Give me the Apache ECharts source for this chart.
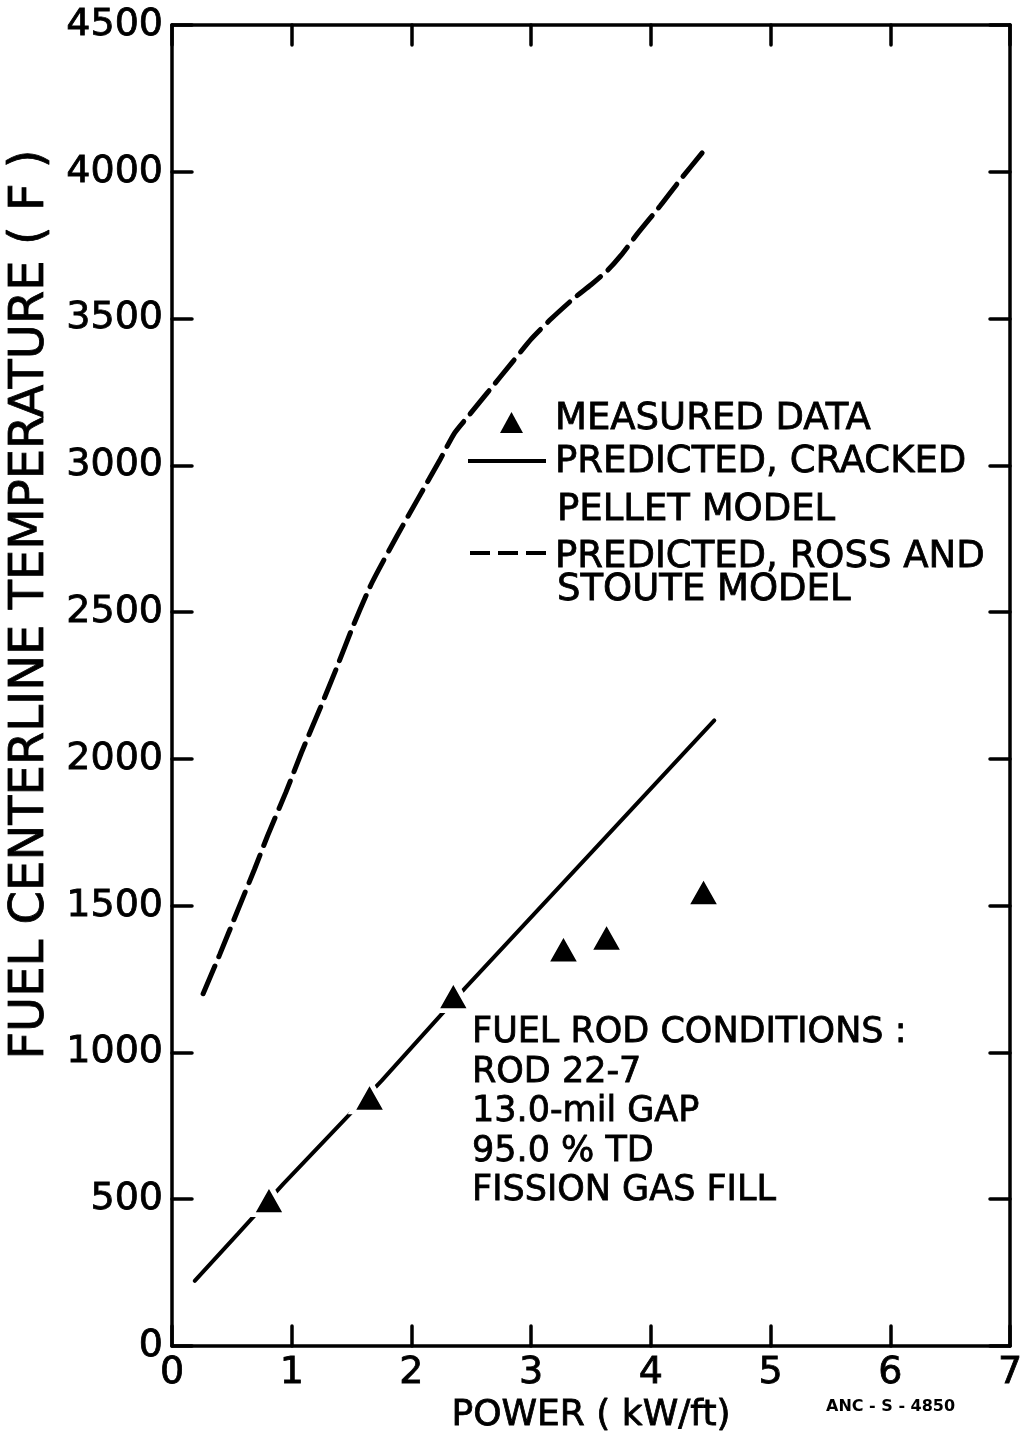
<!DOCTYPE html>
<html>
<head>
<meta charset="utf-8">
<script src="https://cdn.jsdelivr.net/npm/echarts@6/dist/echarts.min.js"></script>
<style>
  html, body { margin: 0; padding: 0; background: #fff; }
  #chart { width: 1030px; height: 1436px; }
</style>
</head>
<body>
<div id="chart"></div>
<script>
// Power (kW/ft) and fuel centerline temperature (F)
const measuredPower = [0.81, 1.65, 2.35, 3.27, 3.63, 4.44];
const measuredTemp  = [500, 850, 1195, 1355, 1395, 1550];

const crackedPower = [0.19, 0.55, 0.93, 1.75, 2.45, 3.52, 4.53];
const crackedTemp  = [222, 382, 552, 903, 1220, 1688, 2131];

const rossPower = [0.26, 0.40, 0.54, 0.69, 0.80, 0.95, 1.08, 1.24, 1.38, 1.51, 1.67, 1.88, 2.06, 2.24,
                   2.36, 2.49, 2.63, 2.85, 3.00, 3.17, 3.36, 3.50, 3.64, 3.75, 3.89, 4.08, 4.25, 4.43];
const rossTemp  = [1200, 1335, 1475, 1625, 1740, 1885, 2020, 2175, 2315, 2450, 2600, 2760, 2890, 3020,
                   3110, 3175, 3245, 3355, 3430, 3500, 3570, 3615, 3665, 3715, 3790, 3885, 3975, 4065];

const xTicks = [0, 1, 2, 3, 4, 5, 6, 7];
const yTicks = [0, 500, 1000, 1500, 2000, 2500, 3000, 3500, 4000, 4500];

const rodConditions = [
  'FUEL ROD CONDITIONS :',
  'ROD 22-7',
  '13.0-mil GAP',
  '95.0 % TD',
  'FISSION GAS FILL'
];

const zip = (xs, ys) => xs.map((x, i) => [x, ys[i]]);

const FONT = '"DejaVu Sans", "Liberation Sans", sans-serif';
const INK = '#000';

const axisLine = { show: true, onZero: false, lineStyle: { color: INK, width: 3.5, cap: 'round' } };
const tickIn = { show: true, inside: true, length: 20, lineStyle: { color: INK, width: 3.5, cap: 'round' } };
const inkText = { color: INK, fontFamily: FONT, textBorderColor: INK, textBorderWidth: 0.8 };

const chart = echarts.init(document.getElementById('chart'), null, { renderer: 'canvas' });

const legendText = (txt, x, y) => ({
  type: 'text', x: x, y: y, z: 100,
  style: { text: txt, fill: INK, stroke: INK, lineWidth: 0.8, font: '37px ' + FONT, verticalAlign: 'middle', align: 'left' }
});

chart.setOption({
  backgroundColor: '#fff',
  animation: false,
  grid: { left: 172, right: 20, top: 25, bottom: 90, containLabel: false, outerBoundsMode: 'none' },
  xAxis: [{
    type: 'value', min: xTicks[0], max: xTicks[xTicks.length - 1], interval: 1,
    name: 'POWER ( kW/ft)', nameLocation: 'middle', nameGap: 50,
    nameTextStyle: Object.assign({ fontSize: 36 }, inkText),
    axisLine: axisLine, axisTick: tickIn,
    axisLabel: Object.assign({ fontSize: 38, margin: 8 }, inkText),
    splitLine: { show: false }
  }, {
    type: 'value', position: 'top', min: xTicks[0], max: xTicks[xTicks.length - 1], interval: 1,
    axisLine: axisLine, axisTick: tickIn, axisLabel: { show: false }, splitLine: { show: false }
  }],
  yAxis: [{
    type: 'value', min: yTicks[0], max: yTicks[yTicks.length - 1], interval: 500,
    name: 'FUEL CENTERLINE TEMPERATURE ( F )', nameLocation: 'middle', nameGap: 114, nameRotate: 90,
    nameTextStyle: Object.assign({ fontSize: 48, padding: [0, 0, 0, 162] }, inkText),
    axisLine: axisLine, axisTick: tickIn,
    axisLabel: Object.assign({ fontSize: 38, margin: 9, formatter: v => String(v) }, inkText),
    splitLine: { show: false }
  }, {
    type: 'value', position: 'right', min: yTicks[0], max: yTicks[yTicks.length - 1], interval: 500,
    axisLine: axisLine, axisTick: tickIn, axisLabel: { show: false }, splitLine: { show: false }
  }],
  series: [{
    name: 'PREDICTED, CRACKED PELLET MODEL',
    type: 'line', data: zip(crackedPower, crackedTemp),
    showSymbol: false, symbol: 'none', z: 2,
    lineStyle: { color: INK, width: 4, cap: 'round' }
  }, {
    name: 'PREDICTED, ROSS AND STOUTE MODEL',
    type: 'line', data: zip(rossPower, rossTemp),
    showSymbol: false, symbol: 'none', smooth: 0.2, z: 2,
    lineStyle: { color: INK, width: 5, type: [30, 10], cap: 'round' }
  }, {
    name: 'MEASURED DATA',
    type: 'scatter', data: zip(measuredPower, measuredTemp),
    symbol: 'triangle', symbolSize: [35, 31], z: 5,
    itemStyle: { color: INK, borderColor: '#fff', borderWidth: 5, opacity: 1 }
  }],
  graphic: [
    // key
    { type: 'polygon', z: 100, shape: { points: [[500, 433], [511.5, 412], [523, 433]] }, style: { fill: INK } },
    legendText('MEASURED DATA', 555, 419),
    { type: 'line', z: 100, shape: { x1: 468, y1: 461, x2: 546, y2: 461 }, style: { stroke: INK, lineWidth: 4 } },
    legendText('PREDICTED, CRACKED', 555, 462),
    legendText('PELLET MODEL', 557, 510),
    { type: 'line', z: 100, shape: { x1: 470, y1: 553, x2: 546, y2: 553 }, style: { stroke: INK, lineWidth: 4, lineDash: [20, 8] } },
    legendText('PREDICTED, ROSS AND', 555, 557),
    legendText('STOUTE MODEL', 557, 590),
    // rod conditions note
    ...rodConditions.map((t, i) => ({
      type: 'text', x: 472, y: 1033 + i * 39.5, z: 100,
      style: { text: t, fill: INK, stroke: INK, lineWidth: 0.8, font: '35px ' + FONT, verticalAlign: 'middle', align: 'left' }
    })),
    // drawing number
    { type: 'text', x: 826, y: 1407, z: 100,
      style: { text: 'ANC - S - 4850', fill: INK, font: 'bold 16px ' + FONT, verticalAlign: 'middle', align: 'left' } }
  ]
});
</script>
</body>
</html>
